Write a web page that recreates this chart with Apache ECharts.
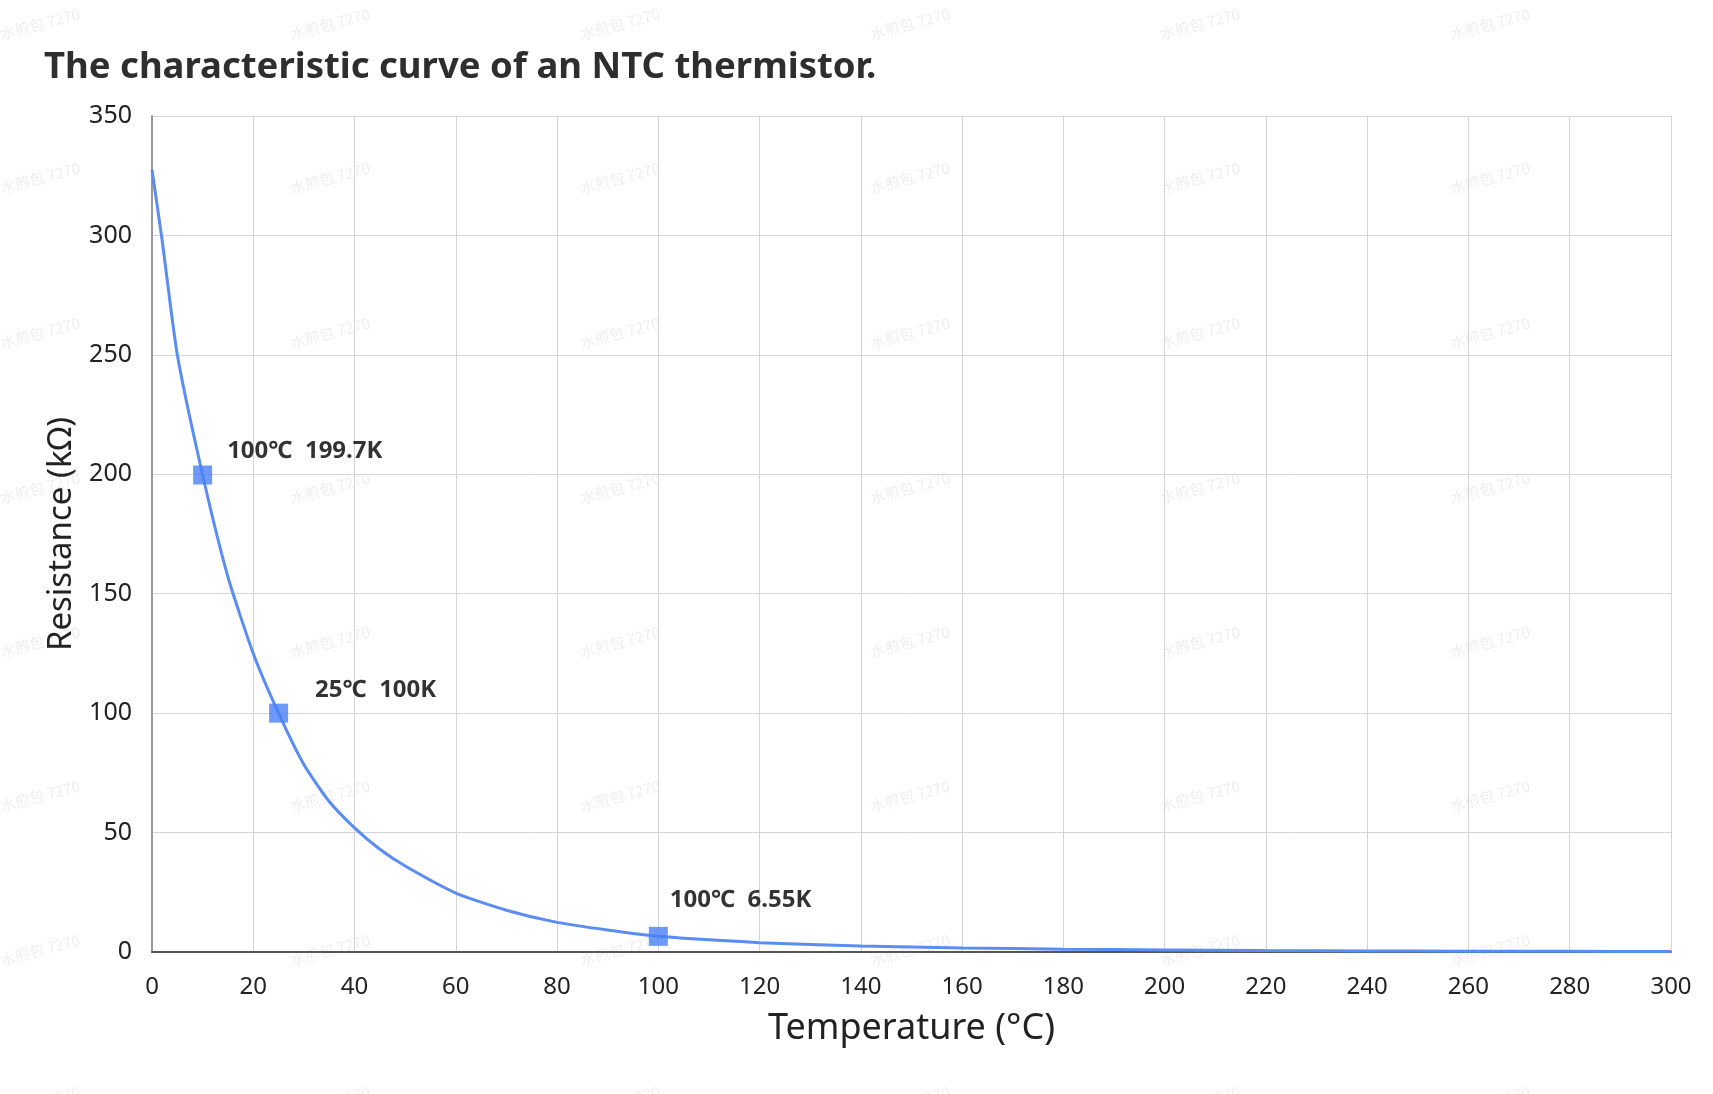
<!DOCTYPE html>
<html>
<head>
<meta charset="utf-8">
<script src="https://cdn.jsdelivr.net/npm/echarts@6/dist/echarts.min.js"></script>
<style>
html,body{margin:0;padding:0;background:#fff;}
#chart{width:1713px;height:1094px;}
</style>
</head>
<body>
<div id="chart"></div>
<script>
// Curve samples (temperature °C, resistance kΩ)
const temperatures = [0, 2, 5, 10, 15, 20, 25, 30, 35, 40, 45, 50, 60, 70, 80, 90, 100, 120, 140, 160, 180, 200, 220, 240, 260, 280, 300];
const resistances  = [327.5, 298, 250, 199.7, 157, 125, 100, 78.5, 63, 52, 43, 36, 24.7, 17.5, 12.4, 9.2, 6.55, 3.9, 2.5, 1.7, 1.2, 0.85, 0.6, 0.45, 0.35, 0.28, 0.22];

// Highlighted points
const markTemps  = [10, 25, 100];
const markValues = [199.7, 100, 6.55];
const markLabels = ['100℃  199.7K', '25℃  100K', '100℃  6.55K'];

const xTicks = {min: 0, max: 300, interval: 20};
const yTicks = {min: 0, max: 350, interval: 50};

const FONT = '"Noto Sans", "Noto Sans CJK SC", sans-serif';

const labelOffsets = [[10, -24], [22, -23], [-3, -36]];

const chart = echarts.init(document.getElementById('chart'), null, {renderer: 'canvas'});

// faint watermark
const wm = [];
const wmCols = [40, 330, 620, 910, 1200, 1490];
const wmRows = [24, 178, 333, 488, 642, 796, 950, 1102];
wmCols.forEach(cx => wmRows.forEach(cy => {
  wm.push({
    type: 'text', x: cx, y: cy, rotation: 0.26, silent: true, z: -10,
    style: {text: '水煎包 7270', fill: 'rgba(0,0,0,0.07)', font: '15px "Noto Sans CJK SC", sans-serif', textAlign: 'center', textVerticalAlign: 'middle'}
  });
}));

const option = {
  backgroundColor: '#ffffff',
  animation: false,
  textStyle: {fontFamily: FONT},
  title: {
    text: 'The characteristic curve of an NTC thermistor.',
    left: 39, top: 44,
    textStyle: {fontSize: 36.5, fontWeight: 'bold', color: '#2e2e2e', fontFamily: FONT}
  },
  graphic: wm,
  grid: {left: 152, right: 42, top: 116, bottom: 142, containLabel: false},
  xAxis: {
    type: 'value', min: xTicks.min, max: xTicks.max, interval: xTicks.interval,
    name: 'Temperature (°C)', nameLocation: 'middle', nameGap: 59,
    nameTextStyle: {fontSize: 36, color: '#222', fontFamily: FONT},
    axisLine: {show: true, onZero: false, lineStyle: {color: '#555', width: 2}},
    axisTick: {show: false},
    axisLabel: {fontSize: 24, color: '#222', margin: 23, fontFamily: FONT},
    splitLine: {show: true, lineStyle: {color: '#d3d5da', width: 1}}
  },
  yAxis: {
    type: 'value', min: yTicks.min, max: yTicks.max, interval: yTicks.interval,
    name: 'Resistance (kΩ)', nameLocation: 'middle', nameGap: 71,
    nameTextStyle: {fontSize: 33, color: '#222', fontFamily: FONT},
    axisLine: {show: true, lineStyle: {color: '#999', width: 2}},
    axisTick: {show: false},
    axisLabel: {fontSize: 25, color: '#222', margin: 20, fontFamily: FONT},
    splitLine: {show: true, lineStyle: {color: '#d3d5da', width: 1}}
  },
  series: [
    {
      type: 'line', smooth: 0.2, showSymbol: false,
      data: temperatures.map((t, i) => [t, resistances[i]]),
      lineStyle: {color: '#5a8cf2', width: 3},
      z: 2
    },
    {
      type: 'scatter', symbol: 'rect', symbolSize: 19,
      itemStyle: {color: '#4a80f7'},
      z: 3,
      data: markTemps.map((t, i) => ({
        value: [t, markValues[i]],
        label: {
          show: true, formatter: markLabels[i], position: 'right', distance: 5,
          offset: labelOffsets[i], color: '#000', fontSize: 24, fontWeight: 'bold', fontFamily: FONT
        }
      }))
    }
  ]
};
chart.setOption(option);
</script>
</body>
</html>
